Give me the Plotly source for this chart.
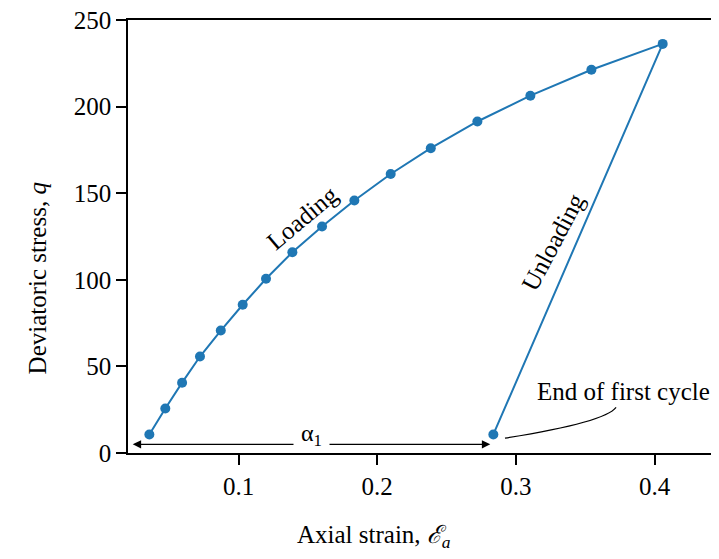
import plotly.graph_objects as go

# Loading branch (axial strain, deviatoric stress)
load_strain = [0.0357, 0.0472, 0.0593, 0.0722, 0.0872, 0.1030, 0.1198, 0.1388,
               0.1602, 0.1835, 0.2097, 0.2386, 0.2722, 0.3104, 0.3544, 0.4058]
load_q = [10.7, 25.7, 40.6, 55.7, 70.7, 85.6, 100.6, 115.9,
          130.8, 145.8, 161.1, 176.0, 191.4, 206.3, 221.3, 236.2]
# Unloading branch
unload_strain = [0.4058, 0.2837]
unload_q = [236.2, 10.7]

x_ticks = [0.1, 0.2, 0.3, 0.4]
x_tick_labels = ["0.1", "0.2", "0.3", "0.4"]
y_ticks = [0, 50, 100, 150, 200, 250]
y_tick_labels = ["0", "50", "100", "150", "200", "250"]

BLUE = "#1f77b4"
FONT = "Liberation Serif, Times New Roman, serif"
FS = 25

xs = load_strain + unload_strain[1:]
ys = load_q + unload_q[1:]

fig = go.Figure()
fig.add_trace(go.Scatter(x=xs, y=ys, mode="lines+markers",
                         line=dict(color=BLUE, width=2),
                         marker=dict(color=BLUE, size=10), showlegend=False))

# alpha_1 double arrow
alpha_y = 5
fig.add_annotation(x=0.0237, y=alpha_y, ax=0.1407, ay=alpha_y, xref="x", yref="y",
                   axref="x", ayref="y", text="", showarrow=True, arrowhead=2,
                   arrowsize=1.4, arrowwidth=1.2, arrowcolor="black")
fig.add_annotation(x=0.2815, y=alpha_y, ax=0.1645, ay=alpha_y, xref="x", yref="y",
                   axref="x", ayref="y", text="", showarrow=True, arrowhead=2,
                   arrowsize=1.4, arrowwidth=1.2, arrowcolor="black")
fig.add_annotation(x=0.1523, y=10.5, xref="x", yref="y", text="α<sub>1</sub>",
                   showarrow=False, font=dict(family=FONT, size=24, color="black"))

# End of first cycle connector (curved)
fig.add_shape(type="path", xref="x", yref="y",
              path="M 0.2921,8.6 Q 0.3642,17.8 0.3722,26.4",
              line=dict(color="black", width=1.2))
fig.add_annotation(x=0.3775, y=35.6, xref="x", yref="y", text="End of first cycle",
                   showarrow=False, font=dict(family=FONT, size=FS, color="black"))

fig.add_annotation(x=0.1461, y=136.2, xref="x", yref="y", text="Loading", textangle=-40,
                   showarrow=False, font=dict(family=FONT, size=FS, color="black"))
fig.add_annotation(x=0.3270, y=122.0, xref="x", yref="y", text="Unloading", textangle=-62,
                   showarrow=False, font=dict(family=FONT, size=FS, color="black"))

# Axis titles
fig.add_annotation(x=(374 - 128) / 591, y=(453.5 - 537) / 434, xref="paper", yref="paper",
                   text="Axial strain, <i>ℰ</i><sub><i>a</i></sub>", showarrow=False,
                   yanchor="middle", font=dict(family=FONT, size=FS, color="black"))
fig.add_annotation(x=(22 - 128) / 591, y=(453.5 - 279) / 434, xref="paper", yref="paper",
                   text="Deviatoric stress, <i>q</i>", textangle=-90, showarrow=False,
                   font=dict(family=FONT, size=FS, color="black"))

fig.update_xaxes(range=[0.0203, 0.4464], tickvals=x_ticks, ticktext=x_tick_labels,
                 showline=True, linecolor="black", linewidth=1.5, mirror=True,
                 ticks="outside", ticklen=10, tickwidth=1.5, tickcolor="black",
                 showgrid=False, zeroline=False, ticklabeloverflow="allow",
                 tickfont=dict(family=FONT, size=FS, color="black"))
fig.update_yaxes(range=[0, 250], tickvals=y_ticks, ticktext=y_tick_labels,
                 showline=True, linecolor="black", linewidth=1.5,
                 ticks="outside", ticklen=10, tickwidth=1.5, tickcolor="black",
                 showgrid=False, zeroline=False, ticklabeloverflow="allow",
                 tickfont=dict(family=FONT, size=FS, color="black"))

# page body has an 8px default margin: compensate so the plot lands where the reference has it
fig.update_layout(width=711, height=551, margin=dict(l=120, r=0, t=11.5, b=105.5),
                  plot_bgcolor="white", paper_bgcolor="white", showlegend=False)

fig.write_html("out.html")
